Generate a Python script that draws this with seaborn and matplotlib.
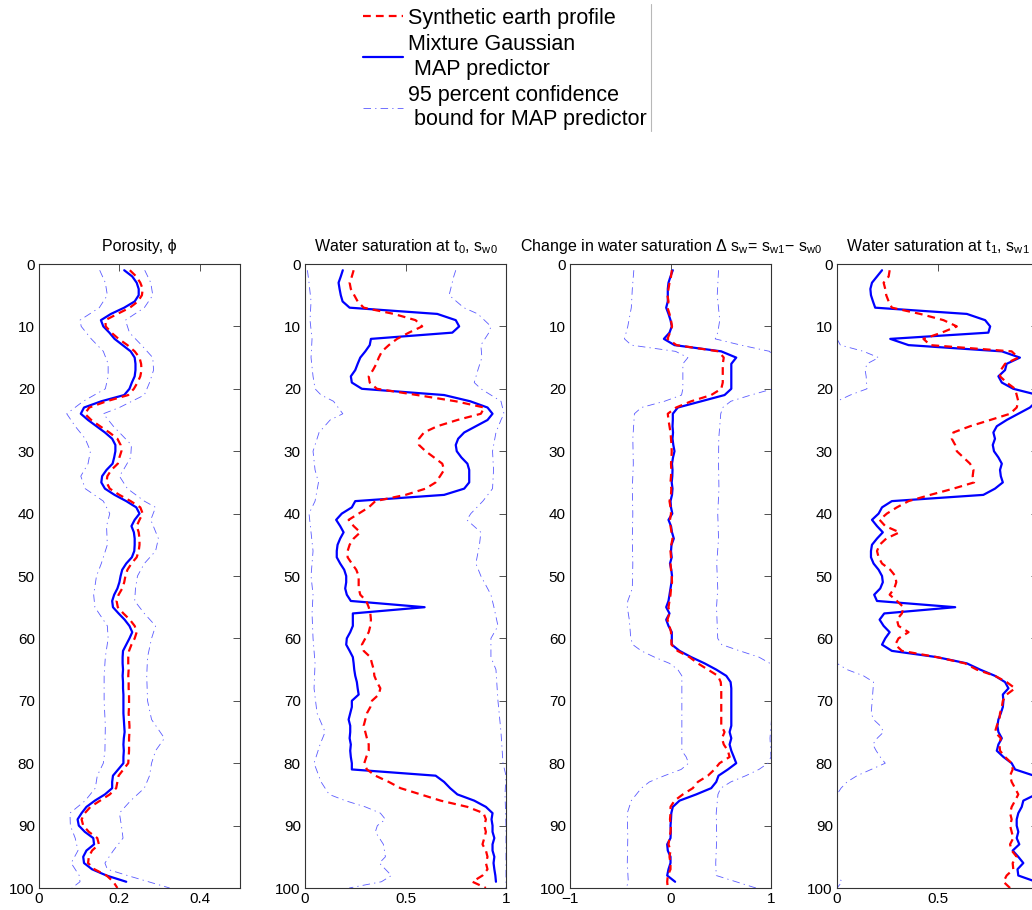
import numpy as np
import matplotlib
matplotlib.use("Agg")
import matplotlib.pyplot as plt
import seaborn as sns
from matplotlib.lines import Line2D

# ---------------------------------------------------------------- data
# Porosity
por_map = [0.212, 0.232, 0.243, 0.248, 0.248, 0.238, 0.212, 0.179, 0.154, 0.160,
           0.175, 0.188, 0.208, 0.228, 0.238, 0.240, 0.240, 0.238, 0.231, 0.225,
           0.212, 0.155, 0.112, 0.104, 0.122, 0.143, 0.164, 0.182, 0.190, 0.190,
           0.187, 0.183, 0.168, 0.157, 0.155, 0.164, 0.188, 0.217, 0.242, 0.250,
           0.238, 0.230, 0.236, 0.238, 0.238, 0.237, 0.231, 0.217, 0.207, 0.203,
           0.200, 0.195, 0.187, 0.182, 0.184, 0.198, 0.213, 0.225, 0.232, 0.225,
           0.217, 0.209, 0.208, 0.208, 0.209, 0.208, 0.209, 0.209, 0.210, 0.210,
           0.210, 0.210, 0.211, 0.212, 0.213, 0.211, 0.210, 0.211, 0.210, 0.210,
           0.197, 0.184, 0.182, 0.182, 0.164, 0.139, 0.118, 0.106, 0.096, 0.099,
           0.114, 0.135, 0.137, 0.118, 0.110, 0.112, 0.132, 0.168, 0.217]
por_true = [0.226, 0.242, 0.252, 0.258, 0.256, 0.246, 0.226, 0.195, 0.165, 0.166,
            0.180, 0.198, 0.220, 0.238, 0.250, 0.254, 0.255, 0.252, 0.245, 0.236,
            0.222, 0.168, 0.125, 0.114, 0.130, 0.152, 0.175, 0.195, 0.203, 0.205,
            0.200, 0.196, 0.180, 0.170, 0.168, 0.176, 0.200, 0.228, 0.252, 0.258,
            0.250, 0.243, 0.248, 0.250, 0.250, 0.248, 0.243, 0.230, 0.220, 0.215,
            0.212, 0.207, 0.198, 0.193, 0.196, 0.210, 0.226, 0.238, 0.243, 0.238,
            0.230, 0.224, 0.222, 0.222, 0.223, 0.222, 0.223, 0.223, 0.224, 0.224,
            0.224, 0.223, 0.224, 0.225, 0.225, 0.224, 0.224, 0.224, 0.223, 0.222,
            0.210, 0.198, 0.195, 0.192, 0.176, 0.152, 0.128, 0.114, 0.106, 0.110,
            0.124, 0.145, 0.149, 0.132, 0.124, 0.122, 0.138, 0.168, 0.185, 0.195]
por_lo_z = [1, 3, 5, 7, 9, 10, 12, 14, 16, 18, 20, 22, 24, 26, 28, 30, 32, 34, 36, 38,
            40, 42, 45, 48, 50, 53, 55, 58, 60, 63, 66, 70, 74, 78, 80, 82, 84, 86, 88,
            90, 92, 94, 96, 98, 99, 100]
por_lo = [0.151, 0.165, 0.170, 0.150, 0.102, 0.105, 0.130, 0.160, 0.172, 0.172,
          0.165, 0.110, 0.069, 0.090, 0.115, 0.128, 0.122, 0.104, 0.115, 0.160,
          0.176, 0.168, 0.170, 0.155, 0.143, 0.136, 0.139, 0.170, 0.172, 0.165,
          0.162, 0.162, 0.165, 0.164, 0.160, 0.145, 0.140, 0.115, 0.077, 0.078,
          0.090, 0.097, 0.080, 0.100, 0.102, 0.082]
por_hi_z = [1, 3, 5, 7, 9, 11, 13, 15, 17, 19, 21, 23, 24, 26, 28, 29, 31, 33, 34, 36,
            38, 39, 41, 44, 46, 48, 50, 52, 54, 56, 58, 60, 63, 66, 70, 73, 76, 78, 80,
            82, 84, 86, 88, 90, 92, 94, 96, 97, 98, 100]
por_hi = [0.263, 0.278, 0.283, 0.262, 0.215, 0.225, 0.255, 0.283, 0.285, 0.275,
          0.262, 0.200, 0.160, 0.185, 0.215, 0.230, 0.228, 0.210, 0.200, 0.220,
          0.262, 0.290, 0.278, 0.297, 0.290, 0.262, 0.245, 0.240, 0.238, 0.262,
          0.290, 0.280, 0.270, 0.268, 0.270, 0.280, 0.312, 0.290, 0.280, 0.275,
          0.262, 0.228, 0.200, 0.205, 0.209, 0.185, 0.164, 0.170, 0.220, 0.325]

# Water saturation at t0
sw0_map = [0.188, 0.178, 0.167, 0.172, 0.178, 0.187, 0.222, 0.658, 0.750, 0.767,
           0.733, 0.328, 0.322, 0.300, 0.275, 0.262, 0.250, 0.228, 0.233, 0.283,
           0.692, 0.822, 0.908, 0.933, 0.908, 0.850, 0.792, 0.762, 0.750, 0.755,
           0.778, 0.808, 0.817, 0.817, 0.817, 0.792, 0.692, 0.250, 0.233, 0.183,
           0.155, 0.175, 0.192, 0.175, 0.162, 0.158, 0.158, 0.175, 0.195, 0.205,
           0.205, 0.200, 0.208, 0.228, 0.595, 0.238, 0.238, 0.238, 0.225, 0.208,
           0.205, 0.222, 0.238, 0.242, 0.245, 0.250, 0.258, 0.262, 0.267, 0.233,
           0.233, 0.225, 0.217, 0.225, 0.225, 0.222, 0.228, 0.225, 0.228, 0.233,
           0.233, 0.650, 0.692, 0.722, 0.758, 0.842, 0.900, 0.933, 0.928, 0.933,
           0.933, 0.942, 0.933, 0.933, 0.942, 0.938, 0.942, 0.947, 0.950]
sw0_true = [0.242, 0.233, 0.222, 0.228, 0.245, 0.262, 0.292, 0.442, 0.550, 0.583,
            0.517, 0.458, 0.417, 0.383, 0.367, 0.355, 0.338, 0.317, 0.322, 0.358,
            0.558, 0.750, 0.892, 0.875, 0.758, 0.658, 0.592, 0.567, 0.567, 0.600,
            0.642, 0.683, 0.692, 0.672, 0.650, 0.600, 0.500, 0.350, 0.317, 0.267,
            0.217, 0.242, 0.275, 0.242, 0.222, 0.212, 0.212, 0.233, 0.255, 0.267,
            0.267, 0.267, 0.275, 0.305, 0.317, 0.325, 0.328, 0.325, 0.317, 0.300,
            0.283, 0.292, 0.325, 0.333, 0.342, 0.345, 0.358, 0.375, 0.367, 0.333,
            0.325, 0.308, 0.300, 0.292, 0.300, 0.308, 0.317, 0.317, 0.305, 0.295,
            0.308, 0.350, 0.417, 0.475, 0.575, 0.675, 0.808, 0.888, 0.900, 0.892,
            0.900, 0.892, 0.883, 0.900, 0.908, 0.900, 0.908, 0.883, 0.833, 0.900]
sw0_lo_z = [1, 3, 6, 9, 12, 15, 18, 20, 21, 22, 24, 25, 27, 30, 33, 35, 38, 40, 43, 46,
            50, 53, 56, 60, 64, 68, 72, 75, 77, 80, 83, 85, 86, 87, 88, 89, 90, 91, 93,
            95, 96, 98, 99, 100]
sw0_lo = [0.012, 0.020, 0.030, 0.025, 0.035, 0.030, 0.040, 0.050, 0.080, 0.142,
          0.188, 0.125, 0.070, 0.040, 0.050, 0.067, 0.050, 0.020, 0.030, 0.040,
          0.030, 0.040, 0.035, 0.040, 0.050, 0.045, 0.060, 0.100, 0.075, 0.045,
          0.080, 0.120, 0.200, 0.300, 0.375, 0.400, 0.360, 0.350, 0.390, 0.400,
          0.370, 0.430, 0.380, 0.220]
sw0_hi_z = [1, 2, 5, 7, 8, 10, 11, 13, 15, 17, 19, 20, 22, 24, 25, 27, 30, 33, 36, 38,
            40, 41, 43, 45, 48, 50, 53, 55, 58, 60, 63, 65, 70, 75, 80, 82, 85, 90, 95,
            100]
sw0_hi = [0.750, 0.740, 0.717, 0.790, 0.860, 0.925, 0.915, 0.875, 0.880, 0.860,
          0.842, 0.875, 0.975, 0.990, 0.975, 0.950, 0.933, 0.938, 0.933, 0.885,
          0.825, 0.805, 0.875, 0.868, 0.850, 0.875, 0.925, 0.940, 0.960, 0.925,
          0.925, 0.950, 0.960, 0.975, 0.985, 1.000, 0.995, 1.000, 1.000, 1.000]

# Change in water saturation
dsw_map = [0.023, 0.000, -0.020, -0.027, -0.027, -0.027, -0.043, -0.020, 0.000, 0.013,
           -0.010, -0.066, 0.040, 0.505, 0.654, 0.605, 0.605, 0.605, 0.605, 0.605,
           0.538, 0.306, 0.073, 0.023, 0.023, 0.020, 0.025, 0.020, 0.028, 0.040,
           0.025, 0.015, 0.020, 0.018, 0.012, 0.020, 0.015, 0.000, 0.005, 0.018,
           -0.020, 0.005, 0.015, 0.033, 0.010, 0.005, 0.012, -0.005, 0.008, 0.015,
           0.010, 0.000, -0.010, -0.020, -0.043, -0.010, -0.043, -0.020, 0.013, 0.013,
           0.013, 0.090, 0.206, 0.339, 0.455, 0.555, 0.598, 0.605, 0.605, 0.605,
           0.605, 0.605, 0.605, 0.605, 0.588, 0.605, 0.588, 0.605, 0.630, 0.654,
           0.571, 0.478, 0.455, 0.405, 0.256, 0.090, 0.023, 0.008, 0.005, 0.000,
           0.003, 0.000, -0.033, -0.027, 0.000, 0.000, -0.020, -0.033, 0.046]
dsw_true = [0.013, 0.005, -0.010, -0.020, -0.030, -0.020, -0.030, -0.010, 0.005, 0.015,
            -0.005, -0.030, 0.060, 0.478, 0.530, 0.520, 0.520, 0.520, 0.520, 0.505,
            0.405, 0.206, 0.056, -0.027, -0.020, -0.010, 0.000, 0.005, 0.010, 0.012,
            0.010, 0.005, 0.008, 0.005, 0.000, 0.008, 0.005, -0.010, 0.000, 0.005,
            -0.005, 0.000, 0.010, 0.020, 0.008, 0.000, 0.005, 0.000, 0.005, 0.012,
            0.015, 0.005, 0.000, -0.010, -0.020, -0.010, -0.030, -0.010, 0.005, 0.008,
            0.010, 0.070, 0.189, 0.272, 0.372, 0.472, 0.500, 0.505, 0.505, 0.505,
            0.505, 0.505, 0.505, 0.505, 0.538, 0.512, 0.530, 0.571, 0.588, 0.488,
            0.438, 0.372, 0.272, 0.222, 0.123, 0.040, 0.000, 0.000, -0.005, 0.005,
            0.000, -0.010, -0.020, 0.000, -0.010, 0.000, 0.000, -0.027, -0.033, -0.027]
dsw_lo_z = [1, 4, 7, 10, 12, 13, 14, 15, 16, 20, 21, 22, 23, 24, 28, 32, 36, 40, 44, 48,
            52, 54, 55, 57, 60, 61, 62, 63, 64, 65, 66, 70, 74, 78, 79, 80, 81, 82, 83,
            84, 85, 86, 88, 92, 96, 99, 100]
dsw_lo = [-0.365, -0.380, -0.390, -0.425, -0.458, -0.390, 0.050, 0.173, 0.123, 0.123,
          0.110, -0.060, -0.290, -0.359, -0.375, -0.370, -0.380, -0.375, -0.380, -0.375,
          -0.380, -0.425, -0.430, -0.410, -0.395, -0.375, -0.290, -0.160, -0.010, 0.073,
          0.113, 0.113, 0.113, 0.113, 0.156, 0.180, 0.106, -0.060, -0.210, -0.290,
          -0.340, -0.390, -0.430, -0.425, -0.430, -0.420, -0.440]
dsw_hi_z = [1, 5, 9, 11, 12, 13, 14, 15, 20, 21, 22, 23, 24, 28, 32, 36, 40, 44, 48, 52,
            55, 58, 60, 61, 62, 63, 64, 65, 70, 74, 76, 79, 80, 81, 82, 83, 84, 85, 88,
            92, 96, 98, 100]
dsw_hi = [0.478, 0.465, 0.490, 0.470, 0.445, 0.700, 0.987, 1.020, 1.020, 0.800,
          0.600, 0.520, 0.500, 0.480, 0.478, 0.482, 0.470, 0.478, 0.460, 0.470,
          0.458, 0.465, 0.470, 0.510, 0.690, 0.880, 0.990, 1.020, 1.020, 1.000,
          0.990, 1.000, 0.970, 0.880, 0.750, 0.600, 0.500, 0.472, 0.455, 0.460,
          0.450, 0.455, 0.850]

# Water saturation at t1
sw1_map = [0.224, 0.199, 0.174, 0.166, 0.169, 0.179, 0.190, 0.646, 0.737, 0.762,
           0.753, 0.265, 0.356, 0.820, 0.910, 0.844, 0.836, 0.803, 0.820, 0.877,
           1.000, 0.993, 0.960, 0.902, 0.844, 0.795, 0.778, 0.786, 0.775, 0.781,
           0.803, 0.820, 0.811, 0.815, 0.825, 0.786, 0.728, 0.273, 0.224, 0.207,
           0.174, 0.199, 0.228, 0.199, 0.174, 0.169, 0.169, 0.182, 0.207, 0.224,
           0.228, 0.215, 0.185, 0.199, 0.588, 0.235, 0.212, 0.232, 0.262, 0.240,
           0.224, 0.273, 0.497, 0.646, 0.712, 0.786, 0.836, 0.853, 0.825, 0.828,
           0.825, 0.815, 0.803, 0.798, 0.803, 0.820, 0.803, 0.795, 0.828, 0.869,
           0.886, 0.980, 1.000, 1.000, 0.990, 0.927, 0.919, 0.902, 0.894, 0.894,
           0.902, 0.894, 0.907, 0.874, 0.902, 0.927, 0.898, 0.902, 0.990]
sw1_true = [0.262, 0.257, 0.232, 0.240, 0.245, 0.257, 0.273, 0.414, 0.530, 0.596,
            0.521, 0.430, 0.464, 0.869, 0.902, 0.836, 0.815, 0.811, 0.844, 0.886,
            0.894, 0.902, 0.894, 0.861, 0.762, 0.662, 0.579, 0.571, 0.588, 0.596,
            0.629, 0.662, 0.679, 0.675, 0.682, 0.579, 0.464, 0.356, 0.298, 0.248,
            0.212, 0.240, 0.311, 0.245, 0.212, 0.199, 0.207, 0.224, 0.265, 0.290,
            0.295, 0.285, 0.262, 0.298, 0.331, 0.323, 0.298, 0.306, 0.356, 0.306,
            0.290, 0.323, 0.497, 0.637, 0.695, 0.786, 0.844, 0.886, 0.844, 0.825,
            0.820, 0.811, 0.808, 0.795, 0.786, 0.815, 0.808, 0.811, 0.836, 0.869,
            0.874, 0.861, 0.869, 0.886, 0.902, 0.886, 0.869, 0.861, 0.869, 0.861,
            0.869, 0.877, 0.861, 0.869, 0.894, 0.874, 0.877, 0.844, 0.828, 0.861]
sw1_lo_z = [1, 12, 13, 14, 15, 16, 17, 18, 20, 21, 22, 64, 65, 66, 67, 70, 72, 73, 74,
            75, 76, 77, 78, 79, 80, 81, 82, 83, 84, 85, 98, 99, 100]
sw1_lo = [0.000, 0.000, 0.017, 0.132, 0.207, 0.149, 0.140, 0.145, 0.149, 0.066,
          0.000, 0.000, 0.050, 0.132, 0.182, 0.175, 0.170, 0.182, 0.215, 0.232,
          0.200, 0.178, 0.195, 0.215, 0.240, 0.170, 0.100, 0.050, 0.020, 0.000,
          0.000, 0.025, 0.000]
sw1_hi_z = [1, 100]
sw1_hi = [1.000, 1.000]

panels = [
    dict(title="Porosity, \u03d5", map=por_map, true=por_true,
         lo=(por_lo_z, por_lo), hi=(por_hi_z, por_hi),
         xlim=(0, 0.5), xticks=[0, 0.2, 0.4], xlabels=["0", "0.2", "0.4"]),
    dict(title="Water saturation at t$_0$, s$_{w0}$", map=sw0_map, true=sw0_true,
         lo=(sw0_lo_z, sw0_lo), hi=(sw0_hi_z, sw0_hi),
         xlim=(0, 1), xticks=[0, 0.5, 1], xlabels=["0", "0.5", "1"]),
    dict(title="Change in water saturation \u0394 s$_w$= s$_{w1}$\u2212 s$_{w0}$",
         map=dsw_map, true=dsw_true, lo=(dsw_lo_z, dsw_lo), hi=(dsw_hi_z, dsw_hi),
         xlim=(-1, 1), xticks=[-1, 0, 1], xlabels=["\u22121", "0", "1"]),
    # the last panel runs past the right edge of the figure, so its "1" is not shown
    dict(title="Water saturation at t$_1$, s$_{w1}$", map=sw1_map, true=sw1_true,
         lo=(sw1_lo_z, sw1_lo), hi=(sw1_hi_z, sw1_hi),
         xlim=(0, 1), xticks=[0, 0.5, 1], xlabels=["0", "0.5", ""]),
]

depth_ticks = list(range(0, 101, 10))

# ---------------------------------------------------------------- style
sns.set_theme(style="white")
plt.rcParams["font.family"] = ["Liberation Sans", "DejaVu Sans"]
plt.rcParams["text.color"] = "black"
plt.rcParams["mathtext.fontset"] = "custom"
plt.rcParams["mathtext.rm"] = "Liberation Sans"
plt.rcParams["mathtext.it"] = "Liberation Sans"
plt.rcParams["mathtext.default"] = "regular"

MAP_KW = dict(color="#0000ff", lw=1.6, solid_joinstyle="round")
TRUE_KW = dict(color="#ff0000", lw=1.6, linestyle=(0, (3.5, 2.3)))
BOUND_KW = dict(color="#5a5aff", lw=0.6, linestyle=(0, (9, 5, 1.5, 5)))

fig = plt.figure(figsize=(10.32, 9.10), dpi=100)
W, H = 1032.0, 910.0
lefts = [39, 305, 570, 837]
top_px, bot_px = 264, 888

for left, p in zip(lefts, panels):
    ax = fig.add_axes([left / W, (H - bot_px) / H, 201 / W, (bot_px - top_px) / H])
    z_map = np.arange(1, len(p["map"]) + 1)
    z_true = np.arange(1, len(p["true"]) + 1)
    for z, v in (p["lo"], p["hi"]):
        sns.lineplot(x=v, y=z, orient="y", sort=False, estimator=None,
                     legend=False, ax=ax, **BOUND_KW)
    sns.lineplot(x=p["map"], y=z_map, orient="y", sort=False, estimator=None,
                 legend=False, ax=ax, **MAP_KW)
    sns.lineplot(x=p["true"], y=z_true, orient="y", sort=False, estimator=None,
                 legend=False, ax=ax, **TRUE_KW)
    ax.set_xlim(*p["xlim"])
    ax.set_ylim(100, 0)
    ax.set_xticks(p["xticks"], p["xlabels"])
    ax.set_yticks(depth_ticks, [str(t) for t in depth_ticks])
    ax.set_xlabel("")
    ax.set_ylabel("")
    ax.tick_params(direction="in", length=5, width=0.6, color="#333333",
                   top=True, right=True, labelsize=11, pad=3, labelcolor="black")
    for s in ax.spines.values():
        s.set_linewidth(0.8)
        s.set_color("#333333")
    ax.set_title(p["title"], fontsize=11.5, pad=9, color="black")

handles = [Line2D([], [], **TRUE_KW), Line2D([], [], **MAP_KW), Line2D([], [], **BOUND_KW)]
labels = ["Synthetic earth profile", "Mixture Gaussian\n MAP predictor",
          "95 percent confidence\n bound for MAP predictor"]
leg = fig.legend(handles, labels, loc="upper left", bbox_to_anchor=(363 / W, 1 - 8 / H),
                 bbox_transform=fig.transFigure, frameon=False, fontsize=15.5,
                 handlelength=1.85, handletextpad=0.25, labelspacing=0.25,
                 borderpad=0, borderaxespad=0, labelcolor="black")
for t in leg.get_texts():
    t.set_linespacing(1.2)

# thin frame edge to the right of the legend
fig.canvas.draw()
bb = leg.get_window_extent().transformed(fig.transFigure.inverted())
fig.add_artist(Line2D([bb.x1 + 4 / W] * 2, [bb.y0 - 1 / H, 1 - 4 / H],
                      transform=fig.transFigure, color="#b8b8b8", lw=0.8))

fig.savefig("out.png", dpi=100)
